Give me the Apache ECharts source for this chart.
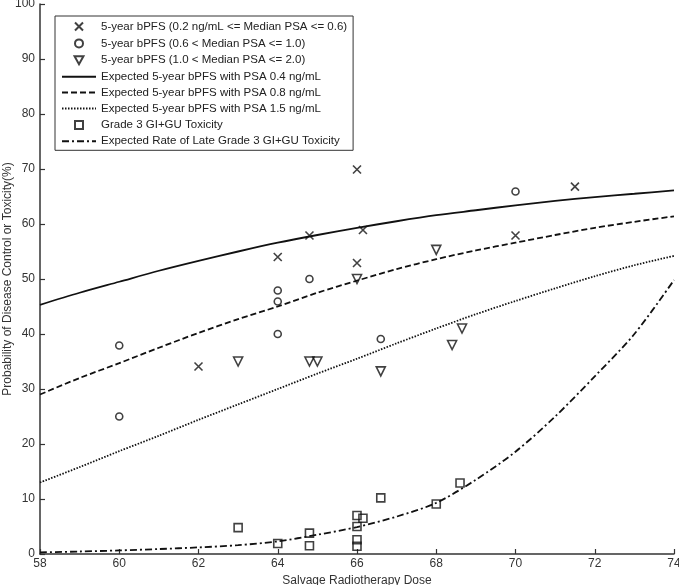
<!DOCTYPE html>
<html>
<head>
<meta charset="utf-8">
<script src="https://cdn.jsdelivr.net/npm/echarts@6/dist/echarts.min.js"></script>
<style>
html,body{margin:0;padding:0;background:#fff;}
#chart{width:679px;height:585px;}
</style>
</head>
<body>
<div id="chart"></div>
<script>
// ---- Data ----
const xTicks = [58, 60, 62, 64, 66, 68, 70, 72, 74];
const yTicks = [0, 10, 20, 30, 40, 50, 60, 70, 80, 90, 100];

const seriesNames = [
  '5-year bPFS (0.2 ng/mL <= Median PSA <= 0.6)',
  '5-year bPFS (0.6 < Median PSA <= 1.0)',
  '5-year bPFS (1.0 < Median PSA <= 2.0)',
  'Expected 5-year bPFS with PSA 0.4 ng/mL',
  'Expected 5-year bPFS with PSA 0.8 ng/mL',
  'Expected 5-year bPFS with PSA 1.5 ng/mL',
  'Grade 3 GI+GU Toxicity',
  'Expected Rate of Late Grade 3 GI+GU Toxicity'
];

const psaLowPoints = [[62,34.1],[64,54],[64.8,57.9],[66,69.9],[66.15,58.9],[66,52.9],[70,57.9],[71.5,66.8]];
const psaMidPoints = [[60,37.9],[60,25],[64,47.9],[64,45.9],[64,40],[64.8,50],[66.6,39.1],[70,65.9]];
const psaHighPoints = [[63,35],[64.8,35],[65,35],[66,50],[66.6,33.2],[68,55.3],[68.4,38],[68.65,41]];
const toxPoints = [[63,4.8],[64,1.9],[64.8,3.8],[64.8,1.5],[66,7],[66.15,6.5],[66,5],[66,2.6],[66,1.4],[66.6,10.2],[68,9.1],[68.6,12.9]];

const curveDose = [58,59,60,61,62,63,64,65,66,67,68,69,70,71,72,73,74];
const curvePSA04 = [45.3,47.5,49.5,51.5,53.3,55,56.6,58,59.3,60.5,61.6,62.5,63.4,64.2,64.9,65.5,66.1];
const curvePSA08 = [29,32,34.7,37.5,40.2,42.7,45,47.5,49.7,51.8,53.6,55.2,56.6,58,59.3,60.4,61.4];
const curvePSA15 = [13,15.8,18.7,21.5,24.4,27.2,30,32.8,35.5,38.3,41,43.6,46,48.3,50.5,52.5,54.2];
const curveTox = [0.3,0.45,0.65,0.9,1.2,1.6,2.3,3.5,4.9,6.8,9.3,13.5,18.6,25,32.3,40,49.8];

const pair = (xs, ys) => xs.map((x, i) => [x, ys[i]]);

const ink = '#111';
const symX = 'path://M0,0L10,10M10,0L0,10';
const symTri = 'path://M0,0L10,0L5,9Z';
const symSq = 'path://M0,0L10,0L10,10L0,10Z';

function scatter(name, data, symbol, size) {
  return {
    name, type: 'scatter', data, symbol, symbolSize: size,
    itemStyle: { color: 'none', borderColor: ink, borderWidth: 1.6 },
    emphasis: { disabled: true }, z: 5
  };
}
function curve(name, data, dash) {
  return {
    name, type: 'line', data, showSymbol: false, symbol: 'none', smooth: 0.3,
    lineStyle: { color: ink, width: 1.8, type: dash },
    itemStyle: { color: 'rgba(0,0,0,0)' },
    emphasis: { disabled: true }, z: 3
  };
}

const chart = echarts.init(document.getElementById('chart'), null, { renderer: 'canvas' });
chart.setOption({
  animation: false,
  backgroundColor: '#fff',
  textStyle: { fontFamily: 'Liberation Sans, Arial, sans-serif' },
  grid: { left: 40, right: 5, top: 4, bottom: 31, containLabel: false, outerBoundsMode: 'none' },
  legend: {
    orient: 'vertical', left: 55, top: 16,
    padding: [4, 6, 3, 6],
    itemWidth: 34, itemHeight: 8, itemGap: 3.9,
    borderColor: '#333', borderWidth: 1,
    textStyle: { fontSize: 11.5, color: '#222', fontFamily: 'Liberation Sans, Arial, sans-serif' },
    data: seriesNames.map((n, i) => (i === 3 || i === 4 || i === 5 || i === 7)
      ? { name: n, itemStyle: { color: 'rgba(0,0,0,0)', borderWidth: 0 } }
      : n),
    selectedMode: false
  },
  xAxis: {
    type: 'value', min: xTicks[0], max: xTicks[xTicks.length - 1], interval: 2,
    name: 'Salvage Radiotherapy Dose', nameLocation: 'middle', nameGap: 15,
    nameTextStyle: { fontSize: 12, color: '#333' },
    axisLine: { lineStyle: { color: '#333', width: 1.5 } },
    axisTick: { inside: true, length: 5, lineStyle: { color: '#333', width: 1.2 } },
    axisLabel: { fontSize: 12, color: '#333', margin: 4 },
    splitLine: { show: false }
  },
  yAxis: {
    type: 'value', min: yTicks[0], max: yTicks[yTicks.length - 1], interval: 10,
    name: 'Probability of Disease Control or Toxicity(%)', nameLocation: 'middle', nameGap: 26,
    nameMoveOverlap: false,
    nameTextStyle: { fontSize: 12, color: '#333' },
    axisLine: { show: true, lineStyle: { color: '#333', width: 1.5 } },
    axisTick: { show: true, inside: true, length: 5, lineStyle: { color: '#333', width: 1.2 } },
    axisLabel: { fontSize: 12, color: '#333', margin: 5 },
    splitLine: { show: false }
  },
  series: [
    scatter(seriesNames[0], psaLowPoints, symX, 8),
    scatter(seriesNames[1], psaMidPoints, 'circle', 7),
    scatter(seriesNames[2], psaHighPoints, symTri, 9),
    curve(seriesNames[3], pair(curveDose, curvePSA04), 'solid'),
    curve(seriesNames[4], pair(curveDose, curvePSA08), [6, 3]),
    curve(seriesNames[5], pair(curveDose, curvePSA15), [1.5, 1.5]),
    scatter(seriesNames[6], toxPoints, symSq, 8),
    curve(seriesNames[7], pair(curveDose, curveTox), [7, 3, 2, 3])
  ]
});
</script>
</body>
</html>
